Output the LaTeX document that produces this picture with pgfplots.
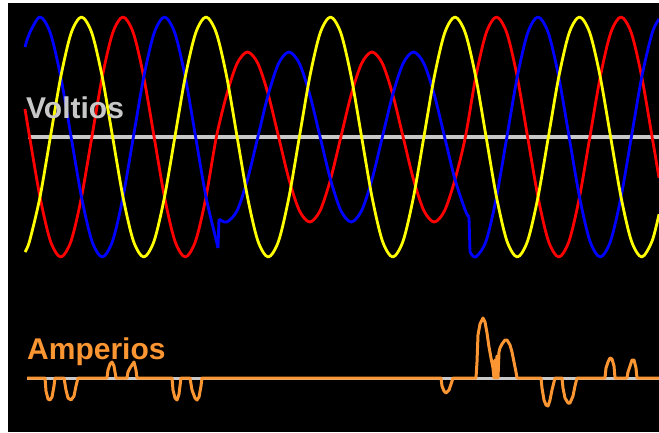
\documentclass[border=0pt]{standalone}
\usepackage{pgfplots}
\pgfplotsset{compat=1.18}
\usepackage{fontspec}
\setmainfont{Liberation Sans}
\definecolor{vred}{RGB}{255,0,0}
\definecolor{vyellow}{RGB}{255,255,0}
\definecolor{vblue}{RGB}{0,0,255}
\definecolor{vgray}{RGB}{200,200,200}
\definecolor{aorange}{RGB}{252,150,50}
\begin{document}
\begin{tikzpicture}
\useasboundingbox (0,0) rectangle (659pt,432pt);
\begin{axis}[
  at={(0,0)}, anchor=south west,
  scale only axis, width=659pt, height=432pt,
  xmin=0, xmax=659, ymin=0, ymax=432, y dir=reverse,
  axis lines=none, ticks=none,
  clip=true,
]
\fill[white] (axis cs:0,0) rectangle (axis cs:659,432);
\fill[black] (axis cs:8,3) rectangle (axis cs:659,432);
% zero lines
\addplot[vgray, line width=4pt] coordinates {(28,137) (659,137)};
\addplot[vgray, line width=3pt] coordinates {(27,378) (659,378)};
% red phase
\addplot[vred, line width=2.8pt, smooth, line join=round] coordinates {
(25,109) (29.625,137) (40,197) (50.375,240.9) (60.75,257) (71.125,240.9)
(81.5,197) (91.875,137) (102.25,77) (112.625,33.1) (123,17) (133.375,33.1)
(143.75,77) (154.125,137) (164.5,197) (174.875,240.9) (185.25,257) (195.625,240.9)
(206,197) (216.375,137) (226.75,94.5) (237.125,63.4) (247.5,52) (257.875,63.4)
(268.25,94.5) (278.625,137) (289,179.5) (299.375,210.6) (309.75,222) (320.125,210.6)
(330.5,179.5) (340.875,137) (351.25,94.5) (361.625,63.4) (372,52) (382.375,63.4)
(392.75,94.5) (403.125,137) (413.5,179.5) (423.875,210.6) (434.25,222) (444.625,210.6)
(455,179.5) (465.375,137) (475.75,77) (486.125,33.1) (496.5,17) (506.875,33.1)
(517.25,77) (527.625,137) (538,197) (548.375,240.9) (558.75,257) (569.125,240.9)
(579.5,197) (589.875,137) (600.25,77) (610.625,33.1) (621,17) (631.375,33.1)
(641.75,77) (652.125,137) (659,177.8)};
% blue phase
\addplot[vblue, line width=2.8pt, smooth, line join=round] coordinates {
(25,47) (29.625,33.1) (40,17) (50.375,33.1) (60.75,77) (71.125,137)
(81.5,197) (91.875,240.9) (102.25,257) (112.625,240.9) (123,197) (133.375,137)
(143.75,77) (154.125,33.1) (164.5,17) (174.875,33.1) (185.25,77) (195.625,137)
(206,197) (216.375,240.9) (218,248)};
\addplot[vblue, line width=2.8pt, line join=round] coordinates {(218,248) (219,219)};
\addplot[vblue, line width=2.8pt, smooth, line join=round] coordinates {
(219,219) (226.75,222) (237.125,210.6) (247.5,179.5) (257.875,137) (268.25,94.5)
(278.625,63.4) (289,52) (299.375,63.4) (309.75,94.5) (320.125,137) (330.5,179.5)
(340.875,210.6) (351.25,222) (361.625,210.6) (372,179.5) (382.375,137) (392.75,94.5)
(403.125,63.4) (413.5,52) (423.875,63.4) (434.25,94.5) (444.625,137) (455,179.5)
(465.375,210.6) (469,217)};
\addplot[vblue, line width=2.8pt, line join=round] coordinates {(469,217) (470,252)};
\addplot[vblue, line width=2.8pt, smooth, line join=round] coordinates {
(470,252) (475.75,257) (486.125,240.9) (496.5,197) (506.875,137) (517.25,77)
(527.625,33.1) (538,17) (548.375,33.1) (558.75,77) (569.125,137) (579.5,197)
(589.875,240.9) (600.25,257) (610.625,240.9) (621,197) (631.375,137) (641.75,77)
(652.125,33.1) (659,19)};
% yellow phase
\addplot[vyellow, line width=2.8pt, smooth, line join=round] coordinates {
(25,252) (29.625,240.9) (40,197) (50.375,137) (60.75,77) (71.125,33.1)
(81.5,17) (91.875,33.1) (102.25,77) (112.625,137) (123,197) (133.375,240.9)
(143.75,257) (154.125,240.9) (164.5,197) (174.875,137) (185.25,77) (195.625,33.1)
(206,17) (216.375,33.1) (226.75,77) (237.125,137) (247.5,197) (257.875,240.9)
(268.25,257) (278.625,240.9) (289,197) (299.375,137) (309.75,77) (320.125,33.1)
(330.5,17) (340.875,33.1) (351.25,77) (361.625,137) (372,197) (382.375,240.9)
(392.75,257) (403.125,240.9) (413.5,197) (423.875,137) (434.25,77) (444.625,33.1)
(455,17) (465.375,33.1) (475.75,77) (486.125,137) (496.5,197) (506.875,240.9)
(517.25,257) (527.625,240.9) (538,197) (548.375,137) (558.75,77) (569.125,33.1)
(579.5,17) (589.875,33.1) (600.25,77) (610.625,137) (621,197) (631.375,240.9)
(641.75,257) (652.125,240.9) (659,214.2)};
% current
\addplot[aorange, line width=3pt, line join=round] coordinates {
(27,378) (45,378) (46,391) (48,399) (50,400) (52,397) (54,386) (55,378)
(64,378) (66,390) (68,398) (71,400) (74,396) (76,386) (78,378)
(107,378) (108,370) (110,364) (112,362) (114,366) (115,372) (116,378)
(127,378) (128,372) (130,368) (132,365) (134,362) (136,370) (137,378)
(172,378) (173,390) (175,398) (177,400) (179,394) (181,378)
(190,378) (192,390) (195,398) (197,400) (199,397) (201,386) (202,378)
(441,378) (442,386) (444,391) (446,393) (449,390) (451,384) (453,378)
(476,378) (477,362) (478,335) (480,324) (483,318) (485,322) (487,333) (489,347) (491,358) (493,368) (494,378)
(495,360) (496,378) (497,356) (498,378) (499,352) (500,348)
(502,344) (505,340) (507,340) (510,345) (512,352) (514,362) (516,372) (517,378)
(541,378) (542,388) (544,400) (546,405) (548,406) (550,400) (552,390) (554,382) (555,378)
(562,378) (563,388) (565,398) (568,403) (570,403) (573,396) (575,386) (577,378)
(605,378) (606,368) (608,362) (610,358) (612,359) (614,366) (615,378)
(627,378) (628,372) (630,366) (632,360) (634,360) (636,368) (637,378)
(659,378)};
\node[anchor=base west, inner sep=0pt, text=vgray, font=\bfseries\fontsize{30}{36}\selectfont] at (axis cs:26,118) {Voltios};
\node[anchor=base west, inner sep=0pt, text=aorange, font=\bfseries\fontsize{30}{36}\selectfont] at (axis cs:27,359) {Amperios};
\end{axis}
\end{tikzpicture}
\end{document}
